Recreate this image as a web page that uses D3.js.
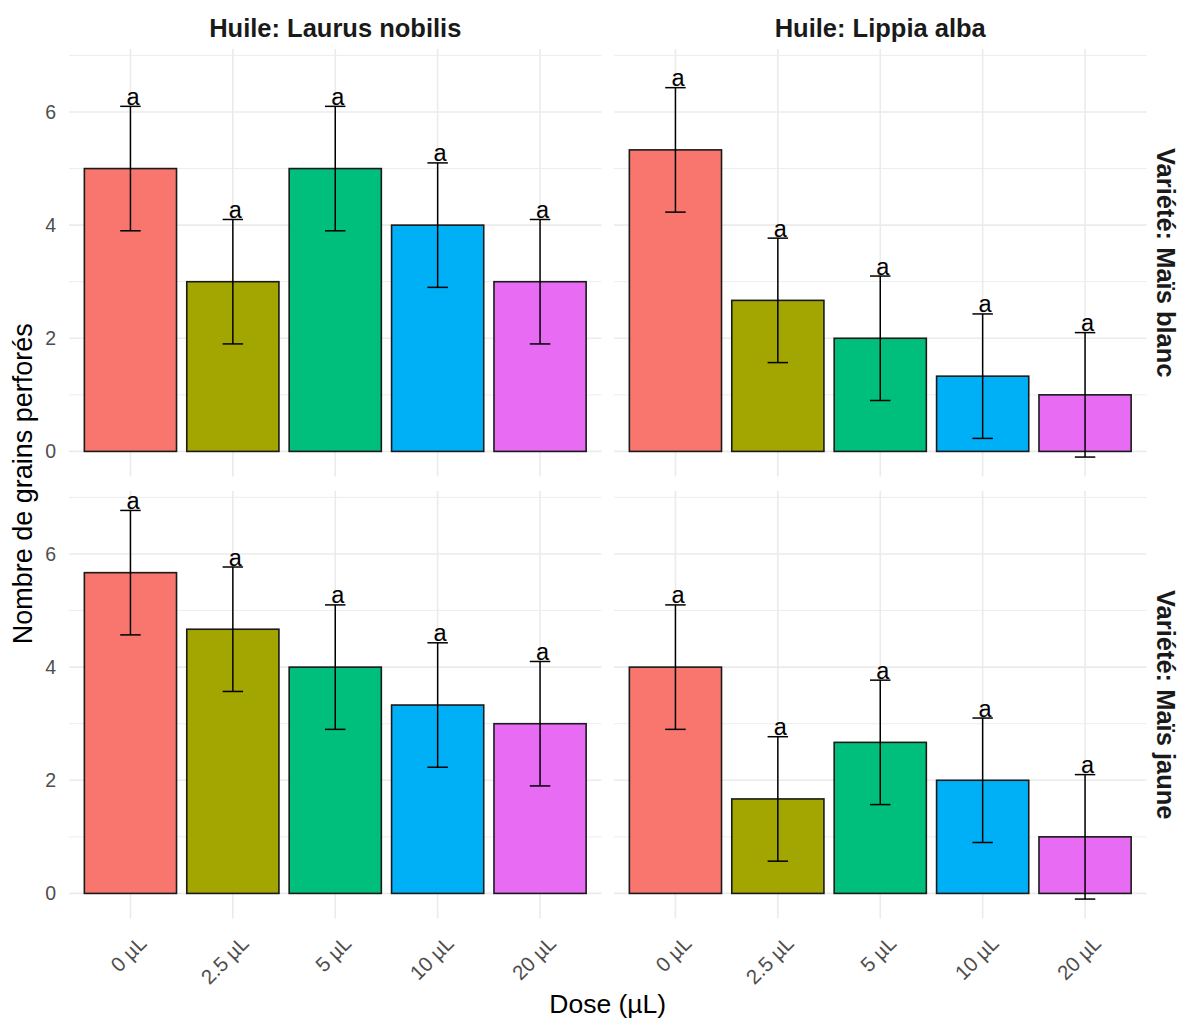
<!DOCTYPE html>
<html>
<head>
<meta charset="utf-8">
<script src="https://cdn.jsdelivr.net/npm/d3@7"></script>
<style>
  html, body { margin: 0; padding: 0; background: #ffffff; }
  svg { display: block; }
  text { font-family: "Liberation Sans", Arial, sans-serif; }
</style>
</head>
<body>
<div id="chart"></div>
<script>
// ---------- data ----------
const huiles = ["Laurus nobilis", "Lippia alba"];
const varietes = ["Maïs blanc", "Maïs jaune"];
const doses = ["0 µL", "2.5 µL", "5 µL", "10 µL", "20 µL"];
const doseColors = ["#F8766D", "#A3A500", "#00BF7D", "#00B0F6", "#E76BF3"];

const meanLaurusBlanc = [5, 3, 5, 4, 3];
const meanLippiaBlanc = [5.33, 2.67, 2, 1.33, 1];
const meanLaurusJaune = [5.67, 4.67, 4, 3.33, 3];
const meanLippiaJaune = [4, 1.67, 2.67, 2, 1];

const seLaurusBlanc = [1.1, 1.1, 1.1, 1.1, 1.1];
const seLippiaBlanc = [1.1, 1.1, 1.1, 1.1, 1.1];
const seLaurusJaune = [1.1, 1.1, 1.1, 1.1, 1.1];
const seLippiaJaune = [1.1, 1.1, 1.1, 1.1, 1.1];

const lettresLaurusBlanc = ["a", "a", "a", "a", "a"];
const lettresLippiaBlanc = ["a", "a", "a", "a", "a"];
const lettresLaurusJaune = ["a", "a", "a", "a", "a"];
const lettresLippiaJaune = ["a", "a", "a", "a", "a"];

const yTicks = [0, 2, 4, 6];
const yMinor = [1, 3, 5, 7];

const xTitle = "Dose (µL)";
const yTitle = "Nombre de grains perforés";

// facets: [row][col]
const facets = [
  [ {mean: meanLaurusBlanc, se: seLaurusBlanc, lab: lettresLaurusBlanc},
    {mean: meanLippiaBlanc, se: seLippiaBlanc, lab: lettresLippiaBlanc} ],
  [ {mean: meanLaurusJaune, se: seLaurusJaune, lab: lettresLaurusJaune},
    {mean: meanLippiaJaune, se: seLippiaJaune, lab: lettresLippiaJaune} ]
];

// ---------- layout ----------
const W = 1179, H = 1021;
const panelX = [69, 614], panelW = 532.5;
const panelY = [49, 491], panelH = 427.5;
const grid = "#EBEBEB";
const tickGrey = "#4D4D4D";

const svg = d3.select("#chart").append("svg")
  .attr("width", W).attr("height", H)
  .style("background", "#fff");

// shared y domain (ggplot-like 5% expansion of data range)
let lo = Infinity, hi = -Infinity;
facets.flat().forEach(f => f.mean.forEach((m, i) => {
  lo = Math.min(lo, m - f.se[i], 0);
  hi = Math.max(hi, m + f.se[i]);
}));
const span = hi - lo;
const yDom = [lo - 0.05 * span, hi + 0.05 * span];

facets.forEach((row, r) => {
  row.forEach((f, c) => {
    const px = panelX[c], py = panelY[r];
    const x = d3.scalePoint().domain(doses).range([px, px + panelW]).padding(0.6);
    const step = x.step();
    const y = d3.scaleLinear().domain(yDom).range([py + panelH, py]);
    const g = svg.append("g");

    // minor grid
    g.selectAll(".ymin").data(yMinor.filter(v => v >= yDom[0] && v <= yDom[1])).enter()
      .append("line")
      .attr("x1", px).attr("x2", px + panelW)
      .attr("y1", d => y(d)).attr("y2", d => y(d))
      .attr("stroke", grid).attr("stroke-width", 0.9);
    // major grid
    g.selectAll(".ymaj").data(yTicks).enter()
      .append("line")
      .attr("x1", px).attr("x2", px + panelW)
      .attr("y1", d => y(d)).attr("y2", d => y(d))
      .attr("stroke", grid).attr("stroke-width", 1.6);
    g.selectAll(".xmaj").data(doses).enter()
      .append("line")
      .attr("x1", d => x(d)).attr("x2", d => x(d))
      .attr("y1", py).attr("y2", py + panelH)
      .attr("stroke", grid).attr("stroke-width", 1.6);

    // bars
    g.selectAll(".bar").data(doses).enter()
      .append("rect")
      .attr("x", d => x(d) - 0.45 * step)
      .attr("width", 0.9 * step)
      .attr("y", (d, i) => y(f.mean[i]))
      .attr("height", (d, i) => y(0) - y(f.mean[i]))
      .attr("fill", (d, i) => doseColors[i])
      .attr("stroke", "#1a1a1a").attr("stroke-width", 1.6);

    // error bars
    const eb = g.selectAll(".eb").data(doses).enter().append("g");
    eb.append("line")
      .attr("x1", d => x(d)).attr("x2", d => x(d))
      .attr("y1", (d, i) => y(f.mean[i] - f.se[i]))
      .attr("y2", (d, i) => y(f.mean[i] + f.se[i]))
      .attr("stroke", "#000").attr("stroke-width", 1.5);
    eb.append("line")
      .attr("x1", d => x(d) - 0.1 * step).attr("x2", d => x(d) + 0.1 * step)
      .attr("y1", (d, i) => y(f.mean[i] + f.se[i]))
      .attr("y2", (d, i) => y(f.mean[i] + f.se[i]))
      .attr("stroke", "#000").attr("stroke-width", 1.5);
    eb.append("line")
      .attr("x1", d => x(d) - 0.1 * step).attr("x2", d => x(d) + 0.1 * step)
      .attr("y1", (d, i) => y(f.mean[i] - f.se[i]))
      .attr("y2", (d, i) => y(f.mean[i] - f.se[i]))
      .attr("stroke", "#000").attr("stroke-width", 1.5);

    // letters
    g.selectAll(".lab").data(doses).enter()
      .append("text")
      .attr("x", d => x(d) + 2.5)
      .attr("y", (d, i) => y(f.mean[i] + f.se[i]) - 1.5)
      .attr("text-anchor", "middle")
      .attr("font-size", 23.5)
      .attr("fill", "#000")
      .text((d, i) => f.lab[i]);

    // y tick labels (left column)
    if (c === 0) {
      g.selectAll(".ytl").data(yTicks).enter()
        .append("text")
        .attr("x", px - 13)
        .attr("y", d => y(d))
        .attr("dy", "0.36em")
        .attr("text-anchor", "end")
        .attr("font-size", 19.5)
        .attr("fill", tickGrey)
        .text(d => d);
    }
    // x tick labels (bottom row)
    if (r === 1) {
      g.selectAll(".xtl").data(doses).enter()
        .append("text")
        .attr("transform", d => `translate(${x(d) + 7},${py + panelH + 16}) rotate(-45)`)
        .attr("dy", "0.71em")
        .attr("text-anchor", "end")
        .attr("font-size", 20.5)
        .attr("fill", tickGrey)
        .text(d => d);
    }
    // strip top
    if (r === 0) {
      svg.append("text")
        .attr("x", px + panelW / 2).attr("y", 37)
        .attr("text-anchor", "middle")
        .attr("font-size", 25.5)
        .attr("font-weight", "bold")
        .attr("fill", "#1A1A1A")
        .text("Huile: " + huiles[c]);
    }
    // strip right
    if (c === 1) {
      svg.append("text")
        .attr("transform", `translate(1166,${py + panelH / 2}) rotate(90)`)
        .attr("dy", "0.35em")
        .attr("text-anchor", "middle")
        .attr("font-size", 25.5)
        .attr("font-weight", "bold")
        .attr("fill", "#1A1A1A")
        .text("Variété: " + varietes[r]);
    }
  });
});

// axis titles
svg.append("text")
  .attr("x", (panelX[0] + panelX[1] + panelW) / 2).attr("y", 1013)
  .attr("text-anchor", "middle")
  .attr("font-size", 26.5)
  .attr("fill", "#000")
  .text(xTitle);

svg.append("text")
  .attr("transform", `translate(32,${(panelY[0] + panelY[1] + panelH) / 2}) rotate(-90)`)
  .attr("text-anchor", "middle")
  .attr("font-size", 27)
  .attr("fill", "#000")
  .text(yTitle);
</script>
</body>
</html>
